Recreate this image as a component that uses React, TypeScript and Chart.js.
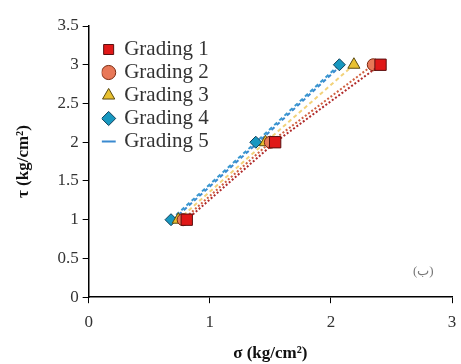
import React, { useEffect, useRef } from "react";
import { Chart, registerables } from "chart.js";

Chart.register(...registerables);

const seriesNames = ["Grading 1", "Grading 2", "Grading 3", "Grading 4", "Grading 5"];
const g1X = [0.81, 1.54, 2.41];
const g1Y = [1, 2, 3];
const g2X = [0.78, 1.5, 2.35];
const g2Y = [1, 2, 3];
const g3X = [0.74, 1.46, 2.19];
const g3Y = [1, 2, 3];
const g4X = [0.68, 1.38, 2.07];
const g4Y = [1, 2, 3];
const g5X = [0.7, 1.4, 2.09];
const g5Y = [1, 2, 3];
const xTicks = [0, 1, 2, 3];
const yTicks = [0, 0.5, 1, 1.5, 2, 2.5, 3, 3.5];

const pts = (xs: number[], ys: number[]) => xs.map((x, i) => ({ x, y: ys[i] }));

const legendShift = {
  id: "legendShift",
  afterLayout(chart: any) {
    const l = chart.legend;
    if (l) {
      l.left += 13;
      l.right += 13;
      l.top += 37;
      l.bottom += 37;
    }
  },
};

export default function App() {
  const ref = useRef<HTMLCanvasElement>(null);
  useEffect(() => {
    document.body.style.margin = "0";
    const serif = "'Liberation Serif', 'Times New Roman', serif";
    const chart = new Chart(ref.current!, {
      type: "scatter",
      plugins: [legendShift],
      data: {
        datasets: [
          {
            label: seriesNames[0],
            data: pts(g1X, g1Y),
            showLine: true,
            borderColor: "#b02a2a",
            borderWidth: 2,
            borderDash: [2, 2],
            backgroundColor: "#e01818",
            pointBorderColor: "#5a1010",
            pointStyle: "rect",
            pointRadius: 8,
            pointBorderWidth: 1,
          },
          {
            label: seriesNames[1],
            data: pts(g2X, g2Y),
            showLine: true,
            borderColor: "#d06040",
            borderWidth: 2,
            borderDash: [2, 2],
            backgroundColor: "#e87858",
            pointBorderColor: "#7a2a10",
            pointStyle: "circle",
            pointRadius: 6,
            pointBorderWidth: 1,
          },
          {
            label: seriesNames[2],
            data: pts(g3X, g3Y),
            showLine: true,
            borderColor: "#f2d27a",
            borderWidth: 2,
            borderDash: [4, 3],
            backgroundColor: "#e8c030",
            pointBorderColor: "#5a4a10",
            pointStyle: "triangle",
            pointRadius: 7,
            pointBorderWidth: 1,
          },
          {
            label: seriesNames[3],
            data: pts(g4X, g4Y),
            showLine: true,
            borderColor: "#3a98d0",
            borderWidth: 2,
            borderDash: [4, 3],
            backgroundColor: "#1898c0",
            pointBorderColor: "#10405a",
            pointStyle: "rectRot",
            pointRadius: 6,
            pointBorderWidth: 1,
          },
          {
            label: seriesNames[4],
            data: pts(g5X, g5Y),
            showLine: true,
            borderColor: "#3a8ad0",
            borderWidth: 2,
            borderDash: [4, 3],
            backgroundColor: "#3a8ad0",
            pointStyle: "line",
            pointRadius: 0,
          },
        ],
      },
      options: {
        animation: false,
        responsive: false,
        layout: { padding: { top: 26, right: -3, left: 13, bottom: 0 } },
        plugins: {
          tooltip: { enabled: false },
          legend: {
            position: "chartArea",
            align: "start",
            labels: {
              usePointStyle: true,
              boxWidth: 10,
              boxHeight: 10,
              padding: 2,
              color: "#333",
              font: { family: serif, size: 21 },
            },
          },
        },
        scales: {
          x: {
            type: "linear",
            min: 0,
            max: 3,
            afterBuildTicks: (s: any) => {
              s.ticks = xTicks.map((v) => ({ value: v }));
            },
            afterFit: (s: any) => {
              s.paddingRight = 0;
            },
            grid: { drawOnChartArea: false, drawTicks: true, tickLength: 6, color: "#000" },
            border: { display: true, color: "#000", width: 1.5 },
            ticks: { color: "#333", font: { family: serif, size: 17 }, padding: 9, callback: (v: any) => String(v) },
            title: {
              display: true,
              text: "σ (kg/cm²)",
              color: "#111",
              font: { family: serif, size: 17, weight: "bold" },
              padding: { top: 2, bottom: 0 },
            },
          },
          y: {
            type: "linear",
            min: 0,
            max: 3.5,
            afterBuildTicks: (s: any) => {
              s.ticks = yTicks.map((v) => ({ value: v }));
            },
            grid: { drawOnChartArea: false, drawTicks: true, tickLength: 6, color: "#000" },
            border: { display: true, color: "#000", width: 1.5 },
            ticks: { color: "#333", font: { family: serif, size: 17 }, padding: 4, callback: (v: any) => String(v) },
            title: {
              display: true,
              text: "τ (kg/cm²)",
              color: "#111",
              font: { family: serif, size: 17, weight: "bold" },
              padding: { top: 0, bottom: 20 },
            },
          },
        },
      },
    });
    return () => chart.destroy();
  }, []);
  return (
    <div style={{ position: "relative", width: 461, height: 364, background: "#fff" }}>
      <canvas ref={ref} width={461} height={364} />
      <span
        style={{
          position: "absolute",
          left: 413,
          top: 263,
          fontFamily: "'Liberation Serif', serif",
          fontSize: 13,
          color: "#777",
        }}
      >
        (ب)
      </span>
    </div>
  );
}
